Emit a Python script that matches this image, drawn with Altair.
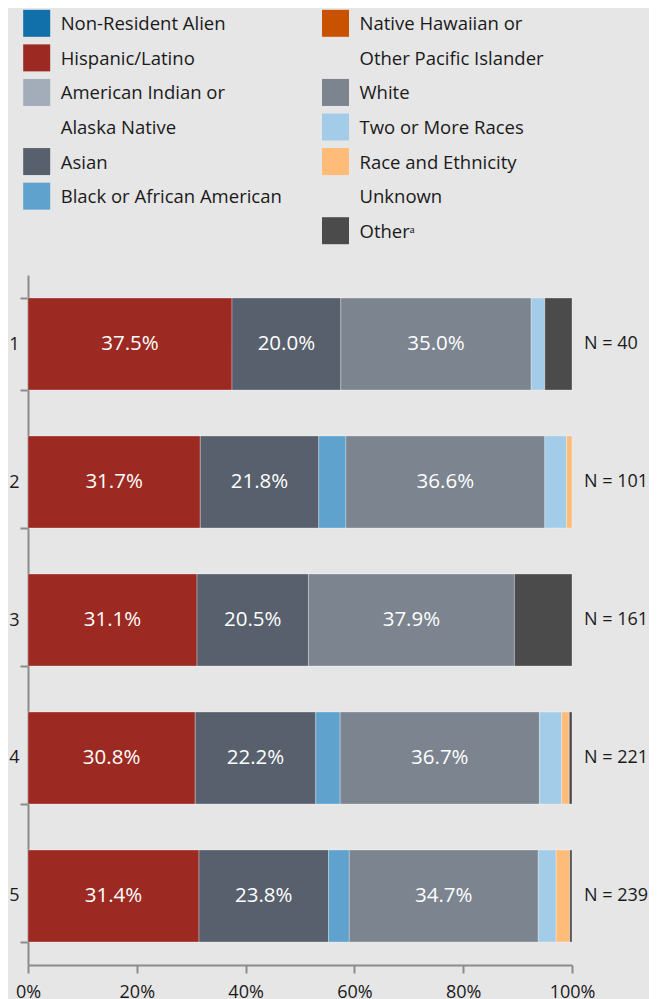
import altair as alt
import pandas as pd

# ---- data ----
categories = [
    "Non-Resident Alien", "Hispanic/Latino", "American Indian or Alaska Native",
    "Asian", "Black or African American",
    "Native Hawaiian or Other Pacific Islander", "White", "Two or More Races",
    "Race and Ethnicity Unknown", "Other",
]
legend_lines = [
    ["Non-Resident Alien"], ["Hispanic/Latino"], ["American Indian or", "Alaska Native"],
    ["Asian"], ["Black or African American"],
    ["Native Hawaiian or", "Other Pacific Islander"], ["White"], ["Two or More Races"],
    ["Race and Ethnicity", "Unknown"], ["Other\u1d43"],
]
legend_column = [0, 0, 0, 0, 0, 1, 1, 1, 1, 1]
colors = ["#1170aa", "#9c2a22", "#a3acb9", "#57606c", "#5fa2ce",
          "#c85200", "#7b848f", "#a3cce9", "#ffbc79", "#4b4b4b"]

rows = ["1", "2", "3", "4", "5"]
n_values = [40, 101, 161, 221, 239]

pct_nra     = [0, 0, 0, 0, 0]
pct_hisp    = [37.5, 31.7, 31.1, 30.8, 31.4]
pct_amind   = [0, 0, 0, 0, 0]
pct_asian   = [20.0, 21.8, 20.5, 22.2, 23.8]
pct_black   = [0, 5.0, 0, 4.5, 3.8]
pct_nh      = [0, 0, 0, 0, 0]
pct_white   = [35.0, 36.6, 37.9, 36.7, 34.7]
pct_two     = [2.5, 4.0, 0, 4.1, 3.3]
pct_unknown = [0, 1.0, 0, 1.4, 2.5]
pct_other   = [5.0, 0, 10.6, 0.5, 0.4]

series = [pct_nra, pct_hisp, pct_amind, pct_asian, pct_black,
          pct_nh, pct_white, pct_two, pct_unknown, pct_other]

# ---- tables ----
bar_records = []
for k, (cat, vals) in enumerate(zip(categories, series)):
    for r, v in zip(rows, vals):
        if v > 0:
            bar_records.append({"row": r, "cat": cat, "k": k, "pct": v})
bars_df = pd.DataFrame(bar_records)

n_df = pd.DataFrame({"row": rows, "nlab": [f"N = {n}" for n in n_values]})

sw_records, txt_records = [], []
slot_next = {0: 1, 1: 1}
for cat, lines, col in zip(categories, legend_lines, legend_column):
    s = slot_next[col]
    sw_records.append({"cat": cat, "col": col, "slot": s})
    for i, line in enumerate(lines):
        txt_records.append({"cat": cat, "col": col, "slot": s + i, "line": line})
    slot_next[col] = s + len(lines)
sw_df = pd.DataFrame(sw_records)
txt_df = pd.DataFrame(txt_records)

FONT = "Open Sans"
color_scale = alt.Scale(domain=categories, range=colors)

# ---- legend panel ----
lx = alt.X("col:Q", scale=alt.Scale(domain=[-0.0291, 1.7915], nice=False, zero=False), axis=None)
ly = alt.Y("slot:Q", scale=alt.Scale(domain=[0.557, 7.645], nice=False, zero=False, reverse=True), axis=None)

legend_sw = alt.Chart(sw_df).mark_square(size=729, opacity=1).encode(
    x=lx, y=ly, color=alt.Color("cat:N", scale=color_scale, legend=None)
)
legend_txt = alt.Chart(txt_df).mark_text(
    align="left", baseline="middle", dx=24, dy=1, fontSize=18.5, font=FONT, color="#1a1a1a"
).encode(x=lx, y=ly, text="line:N")
legend_panel = alt.layer(legend_sw, legend_txt).properties(width=544, height=245)

# ---- bar panel ----
yenc = alt.Y(
    "row:N", sort=rows, title=None,
    scale=alt.Scale(paddingInner=0.333, paddingOuter=0.1667),
    axis=alt.Axis(tickBand="extent", tickSize=8, labelPadding=1, labelFontSize=18,
                  labelFont=FONT, labelColor="#1a1a1a", domainColor="#8c8c8c",
                  tickColor="#8c8c8c", domainWidth=2, tickWidth=2,
                  minExtent=20, maxExtent=20, labelAngle=0),
)
xscale = alt.Scale(domain=[0, 1], nice=False)

base = alt.Chart(bars_df).transform_stack(
    stack="pct", groupby=["row"], as_=["x0", "x1"], offset="normalize",
    sort=[alt.SortField("k", order="ascending")],
).transform_calculate(mid="(datum.x0 + datum.x1) / 2")

bar_layer = base.mark_bar(stroke="white", strokeWidth=1, strokeOpacity=0.3).encode(
    x=alt.X("x0:Q", scale=xscale, title=None,
            axis=alt.Axis(format="%", values=[0, 0.2, 0.4, 0.6, 0.8, 1.0], tickSize=8,
                          labelPadding=10, labelFontSize=18, labelFont=FONT,
                          labelColor="#1a1a1a", domainColor="#8c8c8c",
                          tickColor="#8c8c8c", domainWidth=2, tickWidth=2,
                          grid=False, labelFlush=False)),
    x2="x1:Q",
    y=yenc,
    color=alt.Color("cat:N", scale=color_scale, legend=None),
)
label_layer = base.transform_filter("datum.pct >= 15").transform_calculate(
    lab="format(datum.pct, '.1f') + '%'"
).mark_text(
    color="white", fontSize=20.5, font=FONT, baseline="middle"
).encode(
    x=alt.X("mid:Q", scale=xscale),
    y=yenc,
    text="lab:N",
)

n_layer = alt.Chart(n_df).mark_text(
    align="left", baseline="middle", dx=12, fontSize=18, font=FONT, color="#1a1a1a"
).encode(x=alt.datum(1.0), y=yenc, text="nlab:N")

bar_panel = alt.layer(bar_layer, label_layer, n_layer).properties(width=544, height=690)

chart = alt.vconcat(legend_panel, bar_panel, spacing=13).properties(
    padding={"left": 0, "top": 0, "right": 0, "bottom": 0}
).configure(background="#e6e6e6").configure_view(stroke=None)

chart.save("out.html", embed_options={"renderer": "svg", "actions": False})
